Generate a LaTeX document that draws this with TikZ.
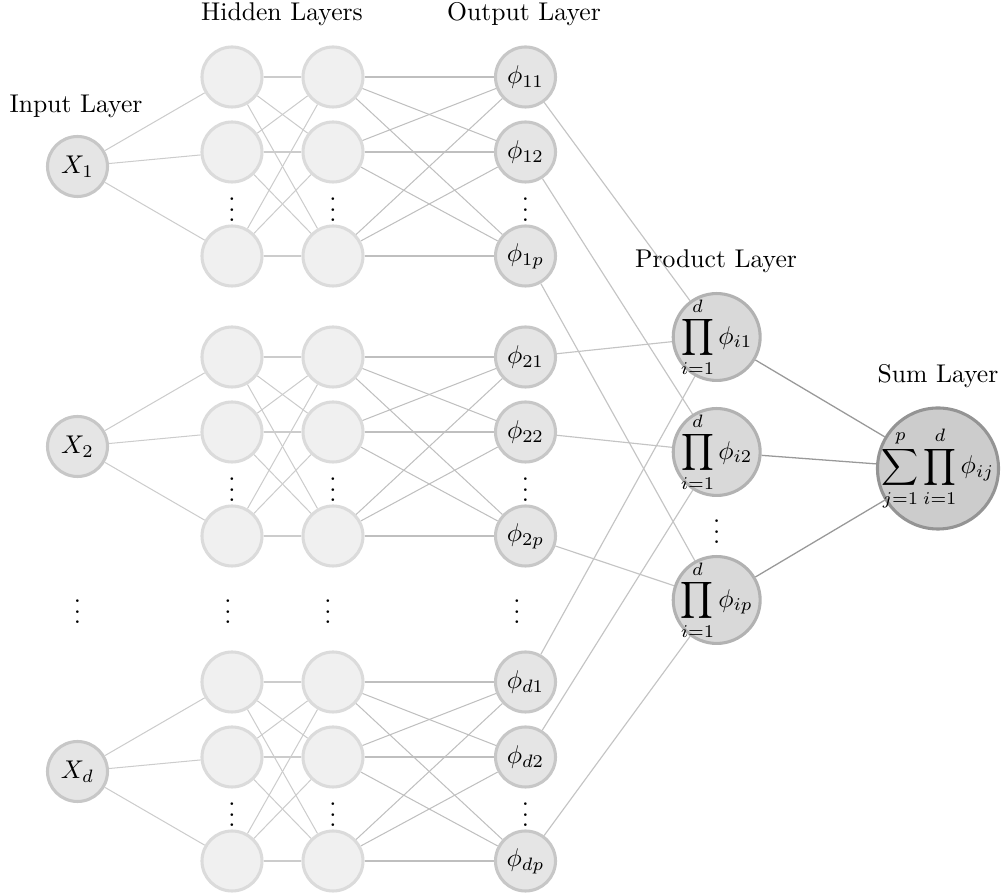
\documentclass[tikz,border=0pt]{standalone}
\usepackage{amsmath}
\usetikzlibrary{backgrounds}
\begin{document}
\begin{tikzpicture}[x=0.39pt,y=-0.39pt,
  inputnode/.style={circle,draw=black!22,fill=black!10,line width=1.2pt,minimum size=23.4pt,inner sep=0pt},
  hiddennode/.style={circle,draw=black!14,fill=black!6,line width=1.2pt,minimum size=23.4pt,inner sep=0pt},
  outnode/.style={circle,draw=black!22,fill=black!10,line width=1.2pt,minimum size=23.4pt,inner sep=0pt},
  prodnode/.style={circle,draw=black!30,fill=black!15,line width=1.2pt,minimum size=33.9pt,inner sep=0pt},
  sumnode/.style={circle,draw=black!42,fill=black!20,line width=1.2pt,minimum size=47.2pt,inner sep=0pt},
  mathtext/.style={inner sep=0pt},
  dotsnode/.style={inner sep=0pt},
  layerlabel/.style={inner sep=0pt},
  edgeA/.style={draw=black!20,line width=0.4pt},
  edgeB/.style={draw=black!25,line width=0.4pt},
  edgeC/.style={draw=black!23,line width=0.45pt},
  edgeD/.style={draw=black!40,line width=0.5pt}]
\useasboundingbox (0,0) rectangle (1004,896);

% blocks
\foreach \b/\off/\s in {1/0/1,2/280/2,3/605/d}{
  \node[inputnode] (x\b) at (77.5,166.5+\off) {$X_{\s}$};
  \foreach \r/\yy/\t in {1/77/1,2/152/2,3/256/p}{
    \node[hiddennode] (ha\b\r) at (232,\yy+\off) {};
    \node[hiddennode] (hb\b\r) at (333,\yy+\off) {};
    \node[outnode] (o\b\r) at (525.5,\yy+\off) {$\phi_{\s\t}$};
  }
  \node[dotsnode] (da\b) at (232,202+\off) {$\vdots$};
  \node[dotsnode] (db\b) at (333,202+\off) {$\vdots$};
  \node[dotsnode] (do\b) at (525.5,202+\off) {$\vdots$};
}

% middle row of dots
\node[dotsnode] (mx) at (77.5,604) {$\vdots$};
\node[dotsnode] (ma) at (228,604) {$\vdots$};
\node[dotsnode] (mb) at (328,604) {$\vdots$};
\node[dotsnode] (mo) at (517,604) {$\vdots$};

% product layer
\node[prodnode] (p1) at (716.7,337) {};
\node[mathtext] (pt1) at (p1) {$\displaystyle\prod_{i=1}^{d}\phi_{i1}$};
\node[prodnode] (p2) at (716.7,452) {};
\node[mathtext] (pt2) at (p2) {$\displaystyle\prod_{i=1}^{d}\phi_{i2}$};
\node[prodnode] (p3) at (716.7,600) {};
\node[mathtext] (pt3) at (p3) {$\displaystyle\prod_{i=1}^{d}\phi_{ip}$};
\node[dotsnode] (pd) at (716.7,524) {$\vdots$};

% sum layer
\node[sumnode] (s) at (938,468.5) {};
\node[mathtext] (st) at (s) {$\displaystyle\sum_{j=1}^{p}\prod_{i=1}^{d}\phi_{ij}$};

% labels
\node[layerlabel] (lin) at (76,106) {Input Layer};
\node[layerlabel] (lhid) at (282,14) {Hidden Layers};
\node[layerlabel] (lout) at (524,14) {Output Layer};
\node[layerlabel] (lprod) at (716,261) {Product Layer};
\node[layerlabel] (lsum) at (938,376) {Sum Layer};

% connectors
\begin{scope}[on background layer]
\foreach \b in {1,2,3}{
  \foreach \r in {1,2,3}{
    \draw[edgeA] (x\b) -- (ha\b\r);
    \foreach \q in {1,2,3}{
      \draw[edgeA] (ha\b\r) -- (hb\b\q);
      \draw[edgeB] (hb\b\r) -- (o\b\q);
    }
    \draw[edgeC] (o\b\r) -- (p\r);
  }
}
\foreach \r in {1,2,3}{
  \draw[edgeD] (p\r) -- (s);
}
\end{scope}
\end{tikzpicture}
\end{document}
